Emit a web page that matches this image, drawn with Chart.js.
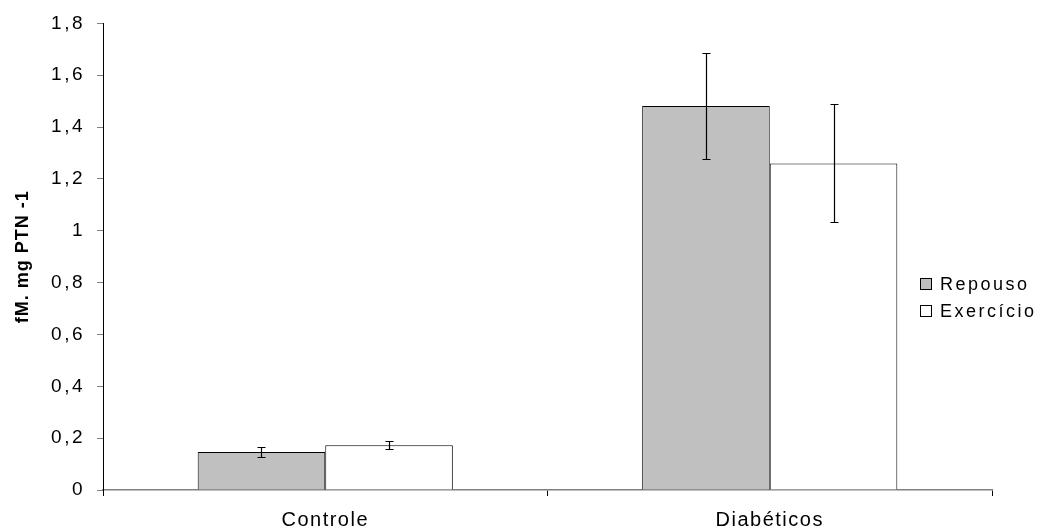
<!DOCTYPE html>
<html>
<head>
<meta charset="utf-8">
<script src="https://cdn.jsdelivr.net/npm/chart.js@4"></script>
<style>
html,body{margin:0;padding:0;background:#fff;}
#wrap{width:1043px;height:531px;position:relative;}
</style>
</head>
<body>
<div id="wrap"><canvas id="c" width="1043" height="531"></canvas></div>
<script>
const categories = ['Controle', 'Diabéticos'];
const seriesNames = ['Repouso', 'Exercício'];
const repouso = [0.147, 1.481];
const exercicio = [0.173, 1.26];
const repousoErr = [0.018, 0.205];
const exercicioErr = [0.015, 0.228];
const yTicks = [0, 0.2, 0.4, 0.6, 0.8, 1, 1.2, 1.4, 1.6, 1.8];

const errors = [repousoErr, exercicioErr];
const FONT = 'Arial, "Liberation Sans", sans-serif';

// per-scale letter spacing for labels and titles
const LABEL_SPACING = { x: '1.5px', y: '2.5px' };
const TITLE_SPACING = { y: '1px' };
const origDrawLabels = Chart.Scale.prototype.drawLabels;
Chart.Scale.prototype.drawLabels = function (area) {
  const c = this.ctx; c.save();
  c.letterSpacing = LABEL_SPACING[this.id] || '0px';
  origDrawLabels.call(this, area);
  c.restore();
};
const origDrawTitle = Chart.Scale.prototype.drawTitle;
Chart.Scale.prototype.drawTitle = function (area) {
  const c = this.ctx; c.save();
  c.letterSpacing = TITLE_SPACING[this.id] || '0px';
  origDrawTitle.call(this, area);
  c.restore();
};

const errorBarPlugin = {
  id: 'errorBars',
  afterDatasetsDraw(chart) {
    const ctx = chart.ctx;
    const ys = chart.scales.y;
    ctx.save();
    ctx.strokeStyle = '#000';
    ctx.lineWidth = 1.2;
    chart.data.datasets.forEach((ds, di) => {
      const meta = chart.getDatasetMeta(di);
      meta.data.forEach((bar, i) => {
        const v = ds.data[i], e = errors[di][i];
        const x = Math.round(bar.x) + 0.5;
        const yt = Math.round(ys.getPixelForValue(v + e)) + 0.5;
        const yb = Math.round(ys.getPixelForValue(v - e)) + 0.5;
        ctx.beginPath();
        ctx.moveTo(x, yt); ctx.lineTo(x, yb);
        ctx.moveTo(x - 4, yt); ctx.lineTo(x + 4, yt);
        ctx.moveTo(x - 4, yb); ctx.lineTo(x + 4, yb);
        ctx.stroke();
      });
    });
    ctx.restore();
  }
};

const legendPlugin = {
  id: 'customLegend',
  afterDraw(chart) {
    const ctx = chart.ctx;
    ctx.save();
    ctx.font = '18px ' + FONT;
    ctx.letterSpacing = '2.5px';
    ctx.textBaseline = 'middle';
    ctx.textAlign = 'left';
    const x0 = 920, ys0 = [284, 311];
    chart.data.datasets.forEach((ds, i) => {
      const y = ys0[i];
      ctx.fillStyle = ds.backgroundColor;
      ctx.fillRect(x0 + 0.5, y - 5.5, 11, 11);
      ctx.strokeStyle = '#000';
      ctx.lineWidth = 1;
      ctx.strokeRect(x0 + 0.5, y - 5.5, 11, 11);
      ctx.fillStyle = '#000';
      ctx.fillText(ds.label, x0 + 20, y + 1);
    });
    ctx.restore();
  }
};

new Chart(document.getElementById('c'), {
  type: 'bar',
  data: {
    labels: categories,
    datasets: [
      { label: seriesNames[0], data: repouso, backgroundColor: '#c0c0c0', borderColor: '#000', borderWidth: 1 },
      { label: seriesNames[1], data: exercicio, backgroundColor: '#ffffff', borderColor: '#000', borderWidth: 1 }
    ]
  },
  options: {
    responsive: false,
    animation: false,
    devicePixelRatio: 1,
    layout: { padding: { top: 22, right: 51, left: 0, bottom: 0 } },
    plugins: { legend: { display: false }, tooltip: { enabled: false } },
    datasets: { bar: { categoryPercentage: 0.574, barPercentage: 1 } },
    scales: {
      x: {
        grid: { offset: true, drawOnChartArea: false, drawTicks: true, tickLength: 6, color: '#000' },
        border: { color: '#808080', width: 1.5 },
        ticks: { color: '#000', font: { family: FONT, size: 20 }, padding: 12 },
        afterFit(s) { s.height = 41; }
      },
      y: {
        min: 0, max: 1.8,
        afterBuildTicks(s) { s.ticks = yTicks.map(v => ({ value: v })); },
        grid: { drawOnChartArea: false, drawTicks: true, tickLength: 6, color: '#808080' },
        border: { color: '#000', width: 1 },
        ticks: {
          color: '#000', font: { family: FONT, size: 19 }, padding: 12,
          callback: v => String(Math.round(v * 10) / 10).replace('.', ',')
        },
        title: { display: true, text: 'fM. mg PTN -1', color: '#000', font: { family: FONT, size: 18, weight: 'bold' }, padding: { top: 12, bottom: 0 } },
        afterFit(s) { s.width = 103; }
      }
    }
  },
  plugins: [errorBarPlugin, legendPlugin]
});
</script>
</body>
</html>
